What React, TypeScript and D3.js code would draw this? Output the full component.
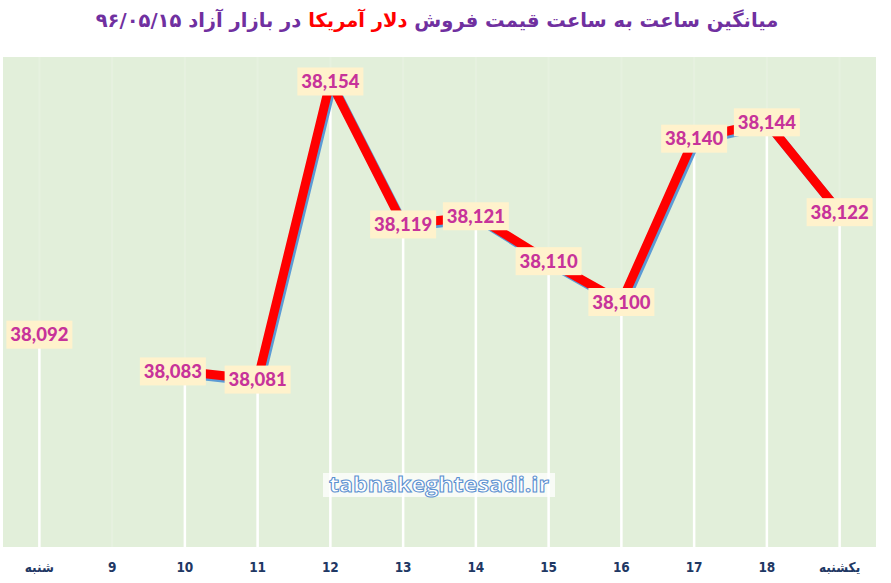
import { useMemo } from "react"
import * as d3 from "d3"

// hourly categories (first and last are day names)
const categories = ["شنبه", "9", "10", "11", "12", "13", "14", "15", "16", "17", "18", "یکشنبه"]
// average selling price of USD, hour 9 has no value
const prices: (number | null)[] = [38092, null, 38083, 38081, 38154, 38119, 38121, 38110, 38100, 38140, 38144, 38122]
const yDomain = [38040, 38160]

const titleStart = "میانگین ساعت به ساعت قیمت فروش "
const titleMid = "دلار آمریکا"
const titleEnd = " در بازار آزاد ۹۶/۰۵/۱۵"
const watermark = "tabnakeghtesadi.ir"

const width = 891
const height = 583
const plot = { left: 3, right: 876, top: 57, bottom: 547 }

// small manual nudges for labels that would collide
const labelNudge: Record<number, number> = { 2: -12 }

export default function App() {
  const x = useMemo(
    () => d3.scaleBand<string>().domain(categories).range([plot.left, plot.right]).padding(0),
    [],
  )
  const y = useMemo(() => d3.scaleLinear().domain(yDomain).range([plot.bottom, plot.top]), [])

  const cx = (i: number) => (x(categories[i]) ?? 0) + x.bandwidth() / 2
  const pts = prices.map((v, i) => ({ v, i }))

  const line = d3
    .line<{ v: number | null; i: number }>()
    .defined((d) => d.v != null)
    .x((d) => cx(d.i))
    .y((d) => y(d.v as number))

  const fmt = d3.format(",")

  return (
    <div style={{ position: "absolute", left: 0, top: 0 }}>
      <svg width={width} height={height} style={{ display: "block", background: "#fff" }}>
        <text
          x={437}
          y={27}
          textAnchor="middle"
          direction="rtl"
          fontFamily="DejaVu Sans, sans-serif"
          fontWeight="bold"
          fontSize={19.5}
          fill="#7030A0"
        >
          <tspan>{titleStart}</tspan>
          <tspan fill="#FF0000">{titleMid}</tspan>
          <tspan>{titleEnd}</tspan>
        </text>

        <rect
          x={plot.left}
          y={plot.top}
          width={plot.right - plot.left}
          height={plot.bottom - plot.top}
          fill="#E2EFDA"
        />

        {/* faint vertical gridlines */}
        {categories.map((c, i) => (
          <line
            key={"g" + c}
            x1={cx(i)}
            x2={cx(i)}
            y1={plot.top}
            y2={plot.bottom}
            stroke="#E6F1DF"
            strokeWidth={2}
          />
        ))}

        {/* drop lines */}
        {pts
          .filter((d) => d.v != null)
          .map((d) => (
            <line
              key={"d" + d.i}
              x1={cx(d.i)}
              x2={cx(d.i)}
              y1={y(d.v as number)}
              y2={plot.bottom}
              stroke="#FFFFFF"
              strokeWidth={2.5}
            />
          ))}

        {/* shadow and line */}
        <path
          d={line(pts) ?? ""}
          transform="translate(2,2.5)"
          fill="none"
          stroke="#5B9BD5"
          strokeWidth={9}
          strokeLinejoin="round"
        />
        <path d={line(pts) ?? ""} fill="none" stroke="#FF0000" strokeWidth={9} strokeLinejoin="round" />

        {/* value labels */}
        {pts
          .filter((d) => d.v != null)
          .map((d) => {
            const lx = cx(d.i) + (labelNudge[d.i] ?? 0)
            const ly = y(d.v as number)
            return (
              <g key={"l" + d.i} transform={`translate(${lx},${ly})`}>
                <rect x={-33} y={-14} width={66} height={28} fill="#FFF2CC" />
                <text
                  textAnchor="middle"
                  dy="0.36em"
                  fontFamily="Lato, Open Sans, sans-serif"
                  fontWeight="900"
                  fontSize={18.5}
                  fill="#C7339A"
                >
                  {fmt(d.v as number)}
                </text>
              </g>
            )
          })}

        {/* x axis labels */}
        {categories.map((c, i) => (
          <text
            key={"x" + c}
            x={cx(i)}
            y={572}
            textAnchor="middle"
            fontFamily="Liberation Sans Narrow, DejaVu Sans Condensed, DejaVu Sans, sans-serif"
            fontWeight="bold"
            fontSize={13.5}
            fill="#1F3864"
          >
            {c}
          </text>
        ))}

        {/* watermark */}
        <rect x={323} y={473} width={232} height={24} fill="#FFFFFF" opacity={0.75} />
        <text
          x={439}
          y={492}
          textAnchor="middle"
          fontFamily="Open Sans, sans-serif"
          fontWeight="bold"
          fontSize={21}
          fill="#FFFFFF"
          stroke="#5B8FD0"
          strokeWidth={1}
          textLength={220}
          lengthAdjust="spacingAndGlyphs"
        >
          {watermark}
        </text>
      </svg>
    </div>
  )
}
